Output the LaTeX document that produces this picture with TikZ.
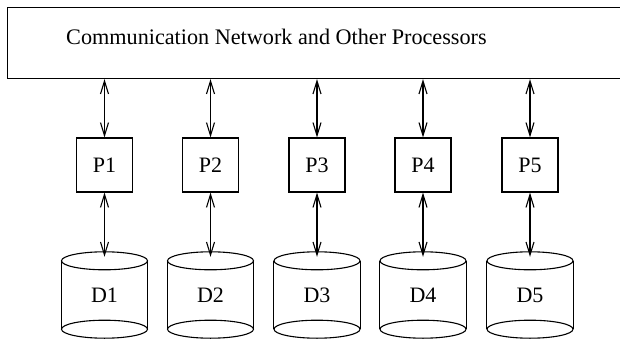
\documentclass[tikz,border=0pt]{standalone}
\usepackage{fontspec}
\setmainfont{Liberation Serif}
\usetikzlibrary{arrows.meta,calc}

\begin{document}
\begin{tikzpicture}[x=1pt,y=1pt,
  every node/.style={inner sep=0pt},
  line/.style={line width=1.1pt},
  link/.style={line, {Straight Barb[length=13pt,width=8pt]}-{Straight Barb[length=13pt,width=8pt]}},
  proc/.style={draw, line, minimum width=56pt, minimum height=54pt, font=\fontsize{22}{24}\selectfont},
  disk/.style={minimum width=86pt, minimum height=86pt, font=\fontsize{22}{24}\selectfont},
  netbox/.style={draw, line, minimum width=623pt, minimum height=71pt, anchor=north west}
]
\clip (0,0) rectangle (620,-339);

% shared network / processor block (runs past the right edge)
\node[netbox] (net) at (7,-7) {};
\node[anchor=base west, font=\fontsize{22.2}{26}\selectfont] (title) at (66,-45)
  {Communication Network and Other Processors};

\foreach \i/\x in {1/104.5, 2/210.5, 3/317, 4/423, 5/530} {
  % processor
  \node[proc] (P\i) at (\x,-165) {P\i};
  % disk drawn as a cylinder with both end ellipses complete
  \node[disk] (D\i) at (\x,-295) {D\i};
  \draw[line] ([yshift=-9pt]D\i.north) ellipse [x radius=43pt, y radius=9pt];
  \draw[line] ([yshift=9pt]D\i.south) ellipse [x radius=43pt, y radius=9pt];
  \draw[line] ([yshift=-9pt]D\i.north west) -- ([yshift=9pt]D\i.south west);
  \draw[line] ([yshift=-9pt]D\i.north east) -- ([yshift=9pt]D\i.south east);
  % connectors
  \draw[link] (P\i.north |- net.south) -- (P\i.north);
  \draw[link] (P\i.south) -- ([yshift=-5pt]D\i.north);
}
\end{tikzpicture}
\end{document}
